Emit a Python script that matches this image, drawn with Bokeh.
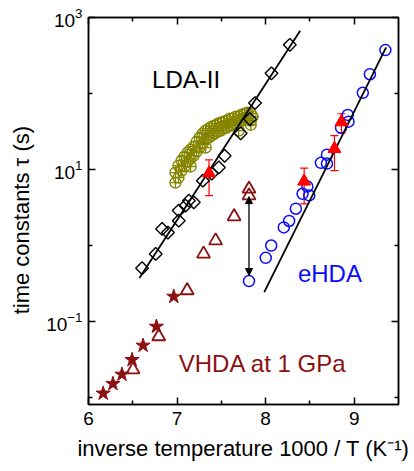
import numpy as np
from bokeh.plotting import figure
from bokeh.models import (FixedTicker, LinearAxis, LogAxis, Whisker, TeeHead,
                          ColumnDataSource, Arrow, NormalHead, Range1d)
from bokeh.core.properties import value
from bokeh.embed import file_html
from bokeh.resources import INLINE

# ---- LDA-II (open diamonds) and its Arrhenius fit ----
lda_x = [6.605, 6.759, 6.831, 6.897, 7.019, 7.019, 7.095, 7.133, 7.189, 7.291,
         7.392, 7.472, 7.537, 7.718, 7.823, 7.880, 8.066, 8.273]
lda_tau = [0.50, 0.77, 1.64, 1.47, 2.11, 2.87, 3.32, 3.87, 3.68, 7.1,
           8.8, 10.6, 15.1, 29.8, 46.0, 74.8, 184.0, 437.0]
lda_fit_x = [6.575, 8.39]
lda_fit_tau = [0.372, 668.0]

# ---- olive crossed circles ----
olive_x = [6.982, 6.982, 7.016, 7.016, 7.050, 7.050, 7.084, 7.084, 7.118, 7.118,
           7.153, 7.153, 7.153, 7.187, 7.187, 7.221, 7.221, 7.254, 7.254, 7.288,
           7.288, 7.322, 7.322, 7.322, 7.356, 7.356, 7.390, 7.390, 7.424, 7.424,
           7.458, 7.458, 7.492, 7.492, 7.526, 7.526, 7.560, 7.560, 7.594, 7.594,
           7.628, 7.628, 7.662, 7.662, 7.695, 7.695, 7.695, 7.729, 7.729, 7.763,
           7.763, 7.797, 7.797, 7.832, 7.832, 7.832, 7.854]
olive_tau = [6.68, 9.05, 11.2, 7.78, 13.0, 9.61, 10.9, 14.7, 16.6, 12.6,
             18.2, 13.8, 10.9, 19.9, 15.1, 23.1, 17.1, 26.1, 19.3, 29.5,
             21.8, 32.3, 24.6, 19.3, 34.3, 26.1, 36.5, 27.7, 37.6, 29.5,
             39.9, 31.3, 41.1, 32.3, 42.5, 34.3, 43.7, 35.4, 46.5, 37.6,
             46.5, 38.7, 49.3, 39.9, 49.3, 41.1, 32.3, 52.5, 43.7, 54.1,
             45.1, 55.7, 46.5, 54.1, 43.7, 38.7, 49.3]

# ---- eHDA (open circles) and its fit ----
ehda_x = [7.812, 8.001, 8.063, 8.205, 8.265, 8.341, 8.417, 8.492, 8.471, 8.624,
          8.692, 8.692, 8.851, 8.936, 8.927, 9.097, 9.177, 9.352]
ehda_tau = [0.338, 0.684, 0.993, 1.72, 2.09, 3.03, 4.77, 4.54, 5.93, 12.2,
            11.9, 15.6, 35.4, 42.5, 52.1, 102.0, 179.0, 372.0]
ehda_fit_x = [7.984, 9.36]
ehda_fit_tau = [0.242, 403.0]

# ---- red filled triangles with error bars ----
red_x = [7.361, 8.435, 8.777, 8.856]
red_tau = [8.9, 6.95, 18.7, 42.0]
red_err = [4.4, 3.45, 9.1, 12.0]

# ---- VHDA at 1 GPa: stars and open triangles ----
star_x = [6.166, 6.276, 6.378, 6.492, 6.616, 6.767, 6.963]
star_tau = [0.0112, 0.0150, 0.0199, 0.0310, 0.0479, 0.0851, 0.211]
tri_x = [6.503, 6.793, 7.114, 7.299, 7.435, 7.644, 7.812, 7.812]
tri_tau = [0.0230, 0.0629, 0.254, 0.771, 1.153, 2.39, 5.52, 4.51]

# double arrow between the two data sets at the same temperature
arrow_x = 7.812
arrow_tau = [4.37, 0.40]

FONT = "Liberation Sans"
OLIVE = "#858500"
BLUE = "#0a0aff"
DARKRED = "#8b1111"
RED = "#ff0000"

p = figure(width=414, height=471, x_range=Range1d(6, 9.5), y_range=Range1d(0.008, 1000),
           y_axis_type="log", output_backend="svg", toolbar_location=None,
           min_border_left=88, min_border_right=16, min_border_top=17, min_border_bottom=67)
p.grid.visible = False
p.outline_line_color = "black"
p.outline_line_width = 1.5
p.background_fill_color = "white"
p.border_fill_color = "white"

xticks = FixedTicker(ticks=[6, 7, 8, 9], minor_ticks=[6.5, 7.5, 8.5])
yticks = FixedTicker(ticks=[0.1, 10, 1000], minor_ticks=[0.01, 1, 100])

# mirrored tick marks on the top and right edges, without labels
top = LinearAxis(ticker=xticks, major_label_text_font_size="1px",
                 major_label_text_color=None, major_label_standoff=0)
p.add_layout(top, "above")
right = LogAxis(ticker=yticks, major_label_text_font_size="1px",
                major_label_text_color=None, major_label_standoff=0)
p.add_layout(right, "right")

p.below[0].ticker = xticks
p.left[0].ticker = yticks

for ax in p.xaxis + p.yaxis:
    ax.major_tick_in = 7
    ax.major_tick_out = 0
    ax.minor_tick_in = 4
    ax.minor_tick_out = 0
    ax.axis_line_width = 1.5
    ax.major_tick_line_width = 1.5
    ax.minor_tick_line_width = 1.5
    ax.axis_line_color = "black"
    ax.major_tick_line_color = "black"
    ax.minor_tick_line_color = "black"
    ax.major_label_text_font = FONT

bx = p.below[0]
bx.major_label_text_font_size = "19px"
bx.major_label_text_color = "black"
bx.major_label_standoff = 7
bx.axis_label = "inverse temperature 1000 / T (K\u207b\u00b9)"
bx.axis_label_text_font = FONT
bx.axis_label_text_font_size = "22px"
bx.axis_label_text_font_style = "normal"
bx.axis_label_text_color = "black"
bx.axis_label_standoff = 8

ly = p.left[0]
ly.major_label_text_font_size = "19px"
ly.major_label_text_color = "black"
ly.major_label_standoff = 6
ly.axis_label = "time constants \u03c4 (s)\u00a0\u00a0\u00a0"
ly.axis_label_text_font = FONT
ly.axis_label_text_font_size = "22px"
ly.axis_label_text_font_style = "normal"
ly.axis_label_text_color = "black"
ly.axis_label_standoff = 9

# crossed circles
p.scatter(olive_x, olive_tau, marker="circle_cross", size=11, fill_color=None,
          line_color=OLIVE, line_width=1.3)

# LDA-II diamonds and fit
p.scatter(lda_x, lda_tau, marker="square", angle=np.pi / 4, size=9, fill_color=None,
          line_color="black", line_width=1.4)
p.line(lda_fit_x, lda_fit_tau, line_color="black", line_width=1.8)

# eHDA circles and fit
p.scatter(ehda_x, ehda_tau, marker="circle", size=11, fill_color=None,
          line_color=BLUE, line_width=1.5)
p.line(ehda_fit_x, ehda_fit_tau, line_color="black", line_width=1.8)

# VHDA symbols
p.scatter(tri_x, tri_tau, marker="triangle", size=13, fill_color=None,
          line_color=DARKRED, line_width=1.8)
p.scatter(star_x, star_tau, marker="star", size=15, fill_color=DARKRED,
          line_color=DARKRED, line_width=1)

# red triangles with error bars
red_src = ColumnDataSource(dict(
    x=red_x, tau=red_tau,
    lo=[t - e for t, e in zip(red_tau, red_err)],
    hi=[t + e for t, e in zip(red_tau, red_err)],
))
p.add_layout(Whisker(base="x", lower="lo", upper="hi", source=red_src, dimension="height",
                     line_color=RED, line_width=1.2,
                     lower_head=TeeHead(size=8, line_color=RED, line_width=1.2),
                     upper_head=TeeHead(size=8, line_color=RED, line_width=1.2)))
p.scatter("x", "tau", source=red_src, marker="triangle", size=13, fill_color=RED,
          line_color=RED, line_width=1)

# double-headed arrow
p.add_layout(Arrow(start=NormalHead(size=7, fill_color="black", line_color="black"),
                   end=NormalHead(size=7, fill_color="black", line_color="black"),
                   x_start=arrow_x, y_start=arrow_tau[0], x_end=arrow_x, y_end=arrow_tau[1],
                   line_color="black", line_width=1.3))

# in-plot labels
p.text(x=[6.718], y=[154.6], text=["LDA-II"], text_font=value(FONT), text_font_size="24px",
       text_color="black", text_baseline="alphabetic", text_align="left")
p.text(x=[8.364], y=[0.424], text=["eHDA"], text_font=value(FONT), text_font_size="24px",
       text_color=BLUE, text_baseline="alphabetic", text_align="left")
p.text(x=[7.019], y=[0.0275], text=["VHDA at 1 GPa"], text_font=value(FONT), text_font_size="24px",
       text_color=DARKRED, text_baseline="alphabetic", text_align="left")

open("out.html", "w").write(file_html(p, INLINE))
